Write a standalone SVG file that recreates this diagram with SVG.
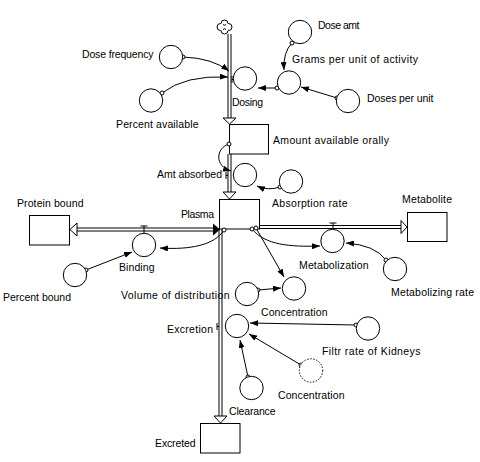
<svg xmlns="http://www.w3.org/2000/svg" width="480" height="462" viewBox="0 0 480 462">
<style>
text{font-family:"Liberation Sans",Arial,sans-serif;font-size:10.5px;fill:#000}
.c{fill:#fff;stroke:#000;stroke-width:1}
.d{fill:#fff;stroke:#000;stroke-width:1;stroke-dasharray:1.5 1.5}
.b{fill:#fff;stroke:#000;stroke-width:1}
.p{stroke:#000;stroke-width:1;fill:none}
.ha{fill:#fff;stroke:#000;stroke-width:1}
.k{fill:none;stroke:#000;stroke-width:1;marker-start:url(#oc);marker-end:url(#ah)}
</style>
<defs>
<marker id="ah" viewBox="0 0 8 6" refX="8" refY="3" markerWidth="8" markerHeight="6" orient="auto" markerUnits="userSpaceOnUse"><path d="M0,0 L8,3 L0,6 z" fill="#000"/></marker>
<marker id="oc" viewBox="-3 -3 6 6" refX="0" refY="0" markerWidth="6" markerHeight="6" markerUnits="userSpaceOnUse"><circle r="2" fill="#fff" stroke="#000" stroke-width="1"/></marker>
</defs>
<rect width="480" height="462" fill="#fff"/>

<g id="flows">
  <line class="p" x1="228" y1="34" x2="228" y2="118"/>
  <line class="p" x1="231" y1="34" x2="231" y2="118"/>
  <polygon class="ha" points="223,118 236,118 229.5,124"/>
  <line class="p" x1="228" y1="154" x2="228" y2="192"/>
  <line class="p" x1="231" y1="154" x2="231" y2="192"/>
  <polygon class="ha" points="223,192 236,192 229.5,199"/>
  <line class="p" x1="77" y1="228" x2="213" y2="228"/>
  <line class="p" x1="77" y1="231" x2="213" y2="231"/>
  <polygon class="ha" points="77,223 77,236 70,229.5"/>
  <polygon points="213,223.5 213,235.5 220,229.5" fill="#000"/>
  <line class="p" x1="259" y1="225.5" x2="401" y2="225.5"/>
  <line class="p" x1="259" y1="228.5" x2="401" y2="228.5"/>
  <polygon class="ha" points="401,220.5 401,233.5 407,227"/>
  <line class="p" x1="219" y1="229" x2="219" y2="416"/>
  <line class="p" x1="222" y1="229" x2="222" y2="416"/>
  <polygon class="ha" points="214,416 227,416 220.5,423"/>
  <path class="p" d="M232,76 V83 M232,79.5 H234"/>
  <path class="p" d="M226,172 V179 M226,175.5 H228"/>
  <path class="p" d="M217,323 V330 M217,326.5 H219"/>
  <path class="p" d="M140.5,226 H147.5 M144,226 V233"/>
  <path class="p" d="M329.5,223 H336.5 M333,223 V229"/>
</g>

<g id="cloud">
  <circle class="b" cx="224.5" cy="23.5" r="3.5"/>
  <circle class="b" cx="228.5" cy="27" r="3.5"/>
  <circle class="b" cx="224.5" cy="30.5" r="3.5"/>
  <circle class="b" cx="220.5" cy="27" r="3.5"/>
  <circle cx="224.5" cy="27" r="4.7" fill="#fff"/>
  <path class="p" d="M223,24.5 Q224.5,26 226,24.5 M223,29.5 Q224.5,28 226,29.5"/>
</g>

<g id="amount"><rect class="b" x="229.5" y="124.5" width="39" height="29.5"/><text x="273" y="144" textLength="116">Amount available orally</text></g>
<g id="plasma"><rect class="b" x="219.5" y="199.5" width="40" height="29.5"/><text x="181" y="218" textLength="33">Plasma</text></g>
<g id="protein"><rect class="b" x="29.5" y="215.5" width="40" height="29.5"/><text x="17" y="207" textLength="66.5">Protein bound</text></g>
<g id="metabolite"><rect class="b" x="407.5" y="212.5" width="39.5" height="29"/><text x="402" y="203" textLength="50">Metabolite</text></g>
<g id="excreted"><rect class="b" x="200.5" y="423.5" width="39.5" height="29.5"/><text x="155" y="447" textLength="40.5">Excreted</text></g>

<g id="connectors">
  <path class="k" d="M183,57 Q212,58 229,71"/>
  <path class="k" d="M162,93 Q185,75 228,77"/>
  <path class="k" d="M292,43 Q283,52 284,70"/>
  <path class="k" d="M337,98 L301,87"/>
  <path class="k" d="M277,88 L258,88"/>
  <path class="k" d="M229,144 C216,148 214,166 231,171"/>
  <path class="k" d="M280,187 Q268,191 257,186"/>
  <path class="k" d="M224,230 C215,245 190,250 160,248"/>
  <path class="k" d="M86,270 L132,252"/>
  <path class="k" d="M252,229 C265,245 290,247 320,246"/>
  <path class="k" d="M256,228 L284,277"/>
  <path class="k" d="M386,260 Q375,245 346,243"/>
  <path class="k" d="M258,290 L281,288"/>
  <path class="k" d="M356,325 L250,323"/>
  <path class="k" d="M301,365 L249,334"/>
  <path class="k" d="M248,377 L240,340"/>
</g>

<g id="dose-amt"><circle class="c" cx="300" cy="32" r="11.7"/><text x="318" y="29" textLength="41.5">Dose amt</text></g>
<g id="dose-frequency"><circle class="c" cx="171" cy="57" r="11.7"/><text x="82" y="58" textLength="71.5">Dose frequency</text></g>
<g id="dosing"><circle class="c" cx="245" cy="78.5" r="11.7"/><text x="232" y="106" textLength="31">Dosing</text></g>
<g id="grams"><circle class="c" cx="289" cy="82.5" r="11.7"/><text x="292" y="63" textLength="126">Grams per unit of activity</text></g>
<g id="doses-per-unit"><circle class="c" cx="348" cy="101" r="11.7"/><text x="367" y="102" textLength="66.5">Doses per unit</text></g>
<g id="percent-available"><circle class="c" cx="151" cy="100.5" r="11.7"/><text x="116" y="128" textLength="82.5">Percent available</text></g>
<g id="amt-absorbed"><circle class="c" cx="245" cy="175" r="11.7"/><text x="157" y="178" textLength="65">Amt absorbed</text></g>
<g id="absorption-rate"><circle class="c" cx="291" cy="181.5" r="11.7"/><text x="272" y="207" textLength="75.5">Absorption rate</text></g>
<g id="binding"><circle class="c" cx="144" cy="245" r="11.7"/><text x="119" y="271" textLength="35.5">Binding</text></g>
<g id="percent-bound"><circle class="c" cx="75" cy="275" r="11.7"/><text x="3" y="301" textLength="68">Percent bound</text></g>
<g id="metabolization"><circle class="c" cx="332.5" cy="241" r="11.7"/><text x="299" y="269" textLength="69.5">Metabolization</text></g>
<g id="metabolizing-rate"><circle class="c" cx="395" cy="269" r="11.7"/><text x="391" y="296" textLength="83">Metabolizing rate</text></g>
<g id="volume"><circle class="c" cx="247" cy="294" r="11.7"/><text x="121" y="299" textLength="108.5">Volume of distribution</text></g>
<g id="concentration1"><circle class="c" cx="294" cy="288.5" r="11.7"/><text x="261" y="316" textLength="66.5">Concentration</text></g>
<g id="excretion"><circle class="c" cx="237" cy="326" r="11.7"/><text x="167" y="333" textLength="46">Excretion</text></g>
<g id="filtr-rate"><circle class="c" cx="368" cy="328.5" r="11.7"/><text x="322" y="355" textLength="98.5">Filtr rate of Kidneys</text></g>
<g id="concentration2"><circle class="d" cx="311" cy="370.5" r="11.7"/><text x="278" y="399" textLength="66.5">Concentration</text></g>
<g id="clearance"><circle class="c" cx="251.5" cy="388" r="11.7"/><text x="229" y="415" textLength="46.5">Clearance</text></g>
</svg>
